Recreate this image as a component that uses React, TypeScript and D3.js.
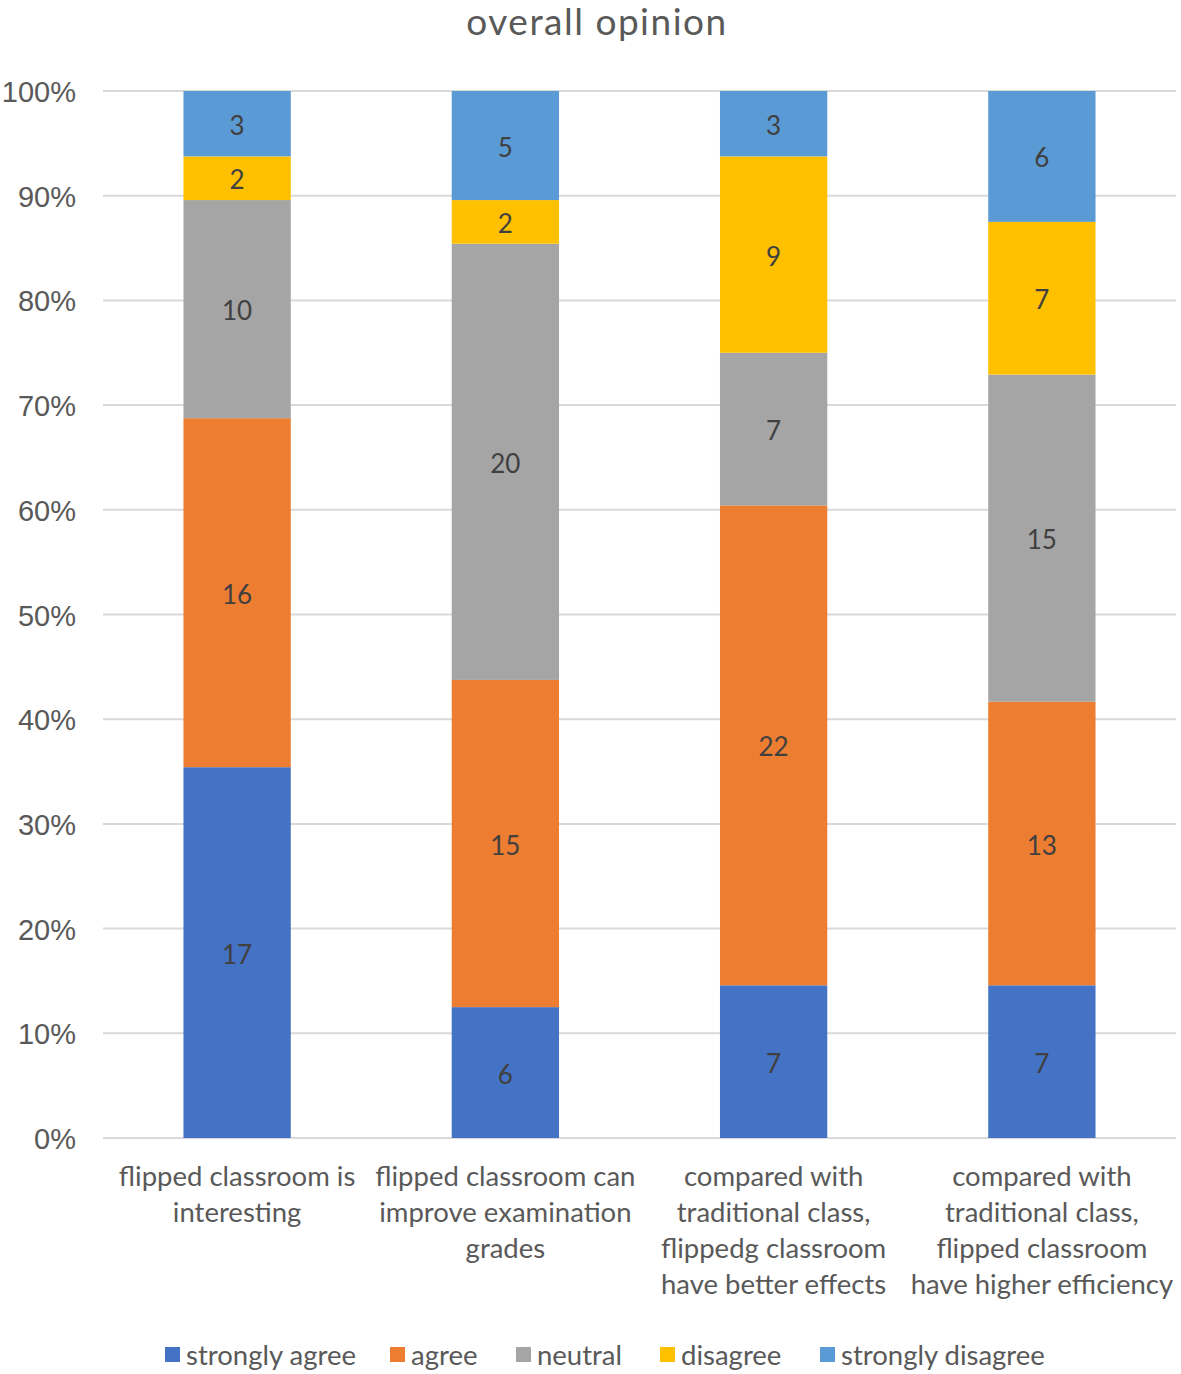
import React from "react";
import * as d3 from "d3";

const categories = [
  ["flipped classroom is", "interesting"],
  ["flipped classroom can", "improve examination", "grades"],
  ["compared with", "traditional class,", "flippedg classroom", "have better effects"],
  ["compared with", "traditional class,", "flipped classroom", "have higher efficiency"],
];
const seriesNames = ["strongly agree", "agree", "neutral", "disagree", "strongly disagree"];
const seriesColors = ["#4472C4", "#ED7D31", "#A5A5A5", "#FFC000", "#5B9BD5"];
const stronglyAgree = [17, 6, 7, 7];
const agree = [16, 15, 22, 13];
const neutral = [10, 20, 7, 15];
const disagree = [2, 2, 9, 7];
const stronglyDisagree = [3, 5, 3, 6];
const yTicks = [0, 0.1, 0.2, 0.3, 0.4, 0.5, 0.6, 0.7, 0.8, 0.9, 1.0];
const title = "overall opinion";

const W = 1181;
const H = 1374;
const plot = { left: 103, right: 1176, top: 91, bottom: 1138 };
const legendX = [165, 390, 516, 660, 820];

export default function App() {
  const series = [stronglyAgree, agree, neutral, disagree, stronglyDisagree];
  const rows = categories.map((_, i) => {
    const r: any = { idx: i };
    seriesNames.forEach((s, k) => (r[s] = series[k][i]));
    return r;
  });
  const stack = d3.stack<any>().keys(seriesNames).offset(d3.stackOffsetExpand);
  const stacked = stack(rows);
  const x = d3
    .scaleBand<number>()
    .domain(categories.map((_, i) => i))
    .range([plot.left, plot.right])
    .paddingInner(0.6)
    .paddingOuter(0.3);
  const y = d3.scaleLinear().domain([0, 1]).range([plot.bottom, plot.top]);
  const fmt = d3.format(".0%");
  const font = "Lato, 'Open Sans', sans-serif";

  return (
    <div style={{ position: "absolute", left: 0, top: 0 }}>
      <svg width={W} height={H} style={{ display: "block", background: "#fff" }}>
        <text x={597} y={35} textAnchor="middle" fontFamily={font} fontSize={37} letterSpacing={1.5} fill="#595959">
          {title}
        </text>
        {yTicks.map((t) => (
          <g key={t}>
            <line x1={plot.left} x2={plot.right} y1={y(t)} y2={y(t)} stroke="#d9d9d9" strokeWidth={2} />
            <text
              x={76}
              y={y(t) + 1}
              textAnchor="end"
              dominantBaseline="central"
              fontFamily="'Liberation Sans', Arial, sans-serif"
              fontSize={29}
              fill="#595959"
            >
              {fmt(t)}
            </text>
          </g>
        ))}
        {stacked.map((layer, k) => (
          <g key={layer.key}>
            {layer.map((d, i) => (
              <g key={i}>
                <rect
                  x={x(i)!}
                  width={x.bandwidth()}
                  y={y(d[1])}
                  height={y(d[0]) - y(d[1])}
                  fill={seriesColors[k]}
                />
                <text
                  x={x(i)! + x.bandwidth() / 2}
                  y={(y(d[0]) + y(d[1])) / 2 + 1}
                  textAnchor="middle"
                  dominantBaseline="central"
                  fontFamily={font}
                  fontSize={26}
                  fill="#404040"
                >
                  {series[k][i]}
                </text>
              </g>
            ))}
          </g>
        ))}
        {categories.map((lines, i) => (
          <text
            key={i}
            x={x(i)! + x.bandwidth() / 2}
            textAnchor="middle"
            fontFamily={font}
            fontSize={27.5}
            fill="#595959"
          >
            {lines.map((l, j) => (
              <tspan key={j} x={x(i)! + x.bandwidth() / 2} y={1175 + j * 36} dominantBaseline="central">
                {l}
              </tspan>
            ))}
          </text>
        ))}
        {seriesNames.map((s, k) => (
          <g key={s}>
            <rect x={legendX[k]} y={1347} width={15} height={15} fill={seriesColors[k]} />
            <text x={legendX[k] + 21} y={1354} dominantBaseline="central" fontFamily={font} fontSize={27.5} fill="#595959">
              {s}
            </text>
          </g>
        ))}
      </svg>
    </div>
  );
}
